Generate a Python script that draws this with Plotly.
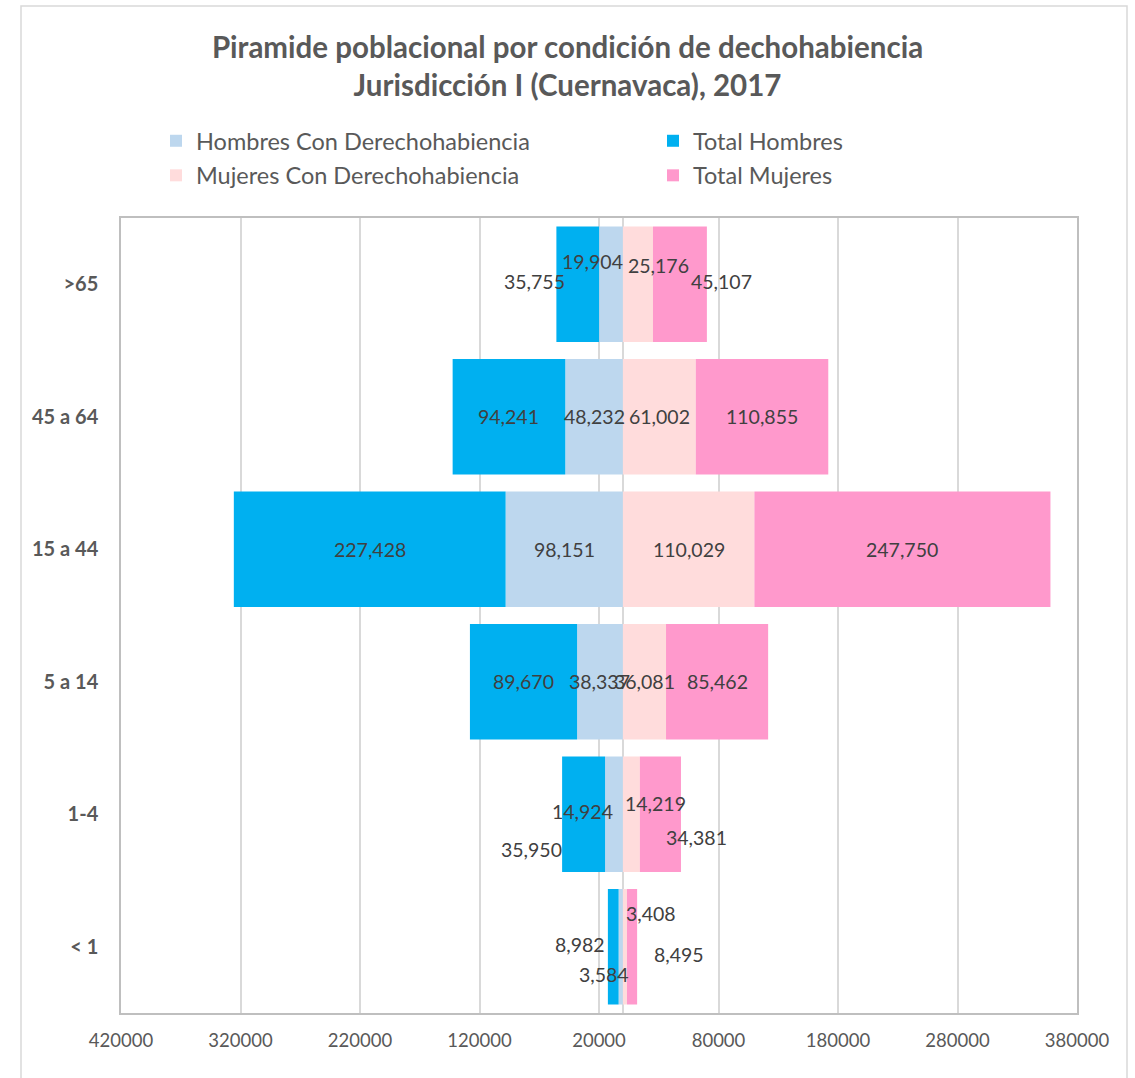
import plotly.graph_objects as go

# ---- data ----
categories = ["< 1", "1-4", "5 a 14", "15 a 44", "45 a 64", ">65"]
hombres_con = [3584, 14924, 38337, 98151, 48232, 19904]
total_hombres = [8982, 35950, 89670, 227428, 94241, 35755]
mujeres_con = [3408, 14219, 36081, 110029, 61002, 25176]
total_mujeres = [8495, 34381, 85462, 247750, 110855, 45107]

tick_vals = [-420000, -320000, -220000, -120000, -20000, 80000, 180000, 280000, 380000]
tick_text = ["420000", "320000", "220000", "120000", "20000", "80000", "180000", "280000", "380000"]

series_names = ["Hombres Con Derechohabiencia", "Total Hombres",
                "Mujeres Con Derechohabiencia", "Total Mujeres"]
colors = ["#BDD7EE", "#00B0F0", "#FFDCDC", "#FF99CC"]

# manual label nudges (pixels, screen dx / dy down) for small bars
label_offsets = {
    (0, ">65"): (-19, -23), (1, ">65"): (-43, -3), (2, ">65"): (21, -19), (3, ">65"): (42, -3),
    (0, "1-4"): (-31, -3), (1, "1-4"): (-52, 35), (2, "1-4"): (24, -11), (3, "1-4"): (36, 23),
    (0, "< 1"): (-17, 28), (1, "< 1"): (-33, -2), (2, "< 1"): (26, -33), (3, "< 1"): (47, 8),
}

FONT = "Lato"
TXT = "#595959"

fig = go.Figure()
signed = [
    [-v for v in hombres_con],
    [-v for v in total_hombres],
    list(mujeres_con),
    list(total_mujeres),
]
legends = ["legend", "legend2", "legend", "legend2"]
for i in range(4):
    fig.add_trace(go.Bar(
        y=categories, x=signed[i], orientation="h", name=series_names[i],
        marker=dict(color=colors[i], line=dict(width=0)),
        legend=legends[i], legendgroup=f"g{i}",
        hoverinfo="name+text", text=[f"{abs(v):,}" for v in signed[i]],
        textposition="none",
    ))

# data labels at segment centres
annotations = []
for j, cat in enumerate(categories):
    centres = [
        -hombres_con[j] / 2,
        -(hombres_con[j] + total_hombres[j] / 2),
        mujeres_con[j] / 2,
        mujeres_con[j] + total_mujeres[j] / 2,
    ]
    vals = [hombres_con[j], total_hombres[j], mujeres_con[j], total_mujeres[j]]
    for i in range(4):
        dx, dy = label_offsets.get((i, cat), (0, 0))
        annotations.append(dict(
            x=centres[i], y=cat, xref="x", yref="y", text=f"{vals[i]:,}",
            showarrow=False, xshift=dx, yshift=-dy,
            font=dict(family=FONT, size=19.5, color="#404040"),
        ))

fig.update_layout(
    width=1135, height=1078,
    margin=dict(l=121, r=58, t=218, b=65),
    paper_bgcolor="white", plot_bgcolor="white",
    barmode="relative", bargap=0.128,
    font=dict(family=FONT, color=TXT),
    title=dict(
        text="Piramide poblacional por condición de dechohabiencia<br>Jurisdicción I (Cuernavaca), 2017",
        x=0.5, xref="container", xanchor="center",
        y=1 - 58 / 1078, yref="container", yanchor="top",
        font=dict(family=FONT, size=29.5, color=TXT, weight="bold"),
    ),
    legend=dict(
        orientation="v", x=(156 - 121) / 956, xanchor="left",
        y=1 - 119 / 1078, yref="container", yanchor="top",
        font=dict(family=FONT, size=23.5, color=TXT), tracegroupgap=1,
        bgcolor="rgba(0,0,0,0)", borderwidth=0,
    ),
    legend2=dict(
        orientation="v", x=(653 - 121) / 956, xanchor="left",
        y=1 - 119 / 1078, yref="container", yanchor="top",
        font=dict(family=FONT, size=23.5, color=TXT), tracegroupgap=1,
        bgcolor="rgba(0,0,0,0)", borderwidth=0,
    ),
    xaxis=dict(
        range=[-420000, 380000], tickvals=tick_vals, ticktext=tick_text,
        showgrid=True, gridcolor="#D9D9D9", gridwidth=1.5,
        zeroline=True, zerolinecolor="#D9D9D9", zerolinewidth=1.5,
        showline=True, linecolor="#BFBFBF", linewidth=1.5, mirror=True,
        ticks="outside", ticklen=10, tickcolor="rgba(0,0,0,0)",
        tickfont=dict(family=FONT, size=18.5, color=TXT),
        fixedrange=True,
    ),
    yaxis=dict(
        type="category", categoryorder="array", categoryarray=categories,
        showgrid=False, zeroline=False,
        showline=True, linecolor="#BFBFBF", linewidth=1.5, mirror=True,
        ticks="outside", ticklen=17, tickcolor="rgba(0,0,0,0)",
        tickfont=dict(family=FONT, size=20, color=TXT, weight="bold"),
        fixedrange=True,
    ),
    annotations=annotations,
    shapes=[dict(
        type="rect", xref="paper", yref="paper",
        x0=(21 - 121) / 956, x1=(1127 - 121) / 956,
        y0=(1013 - 1090) / 795, y1=(1013 - 6) / 795,
        line=dict(color="#D9D9D9", width=1.5), fillcolor="rgba(0,0,0,0)",
        layer="below",
    )],
)

fig.write_html("out.html", config={"displayModeBar": False},
               post_script="document.body.style.margin='0';")
